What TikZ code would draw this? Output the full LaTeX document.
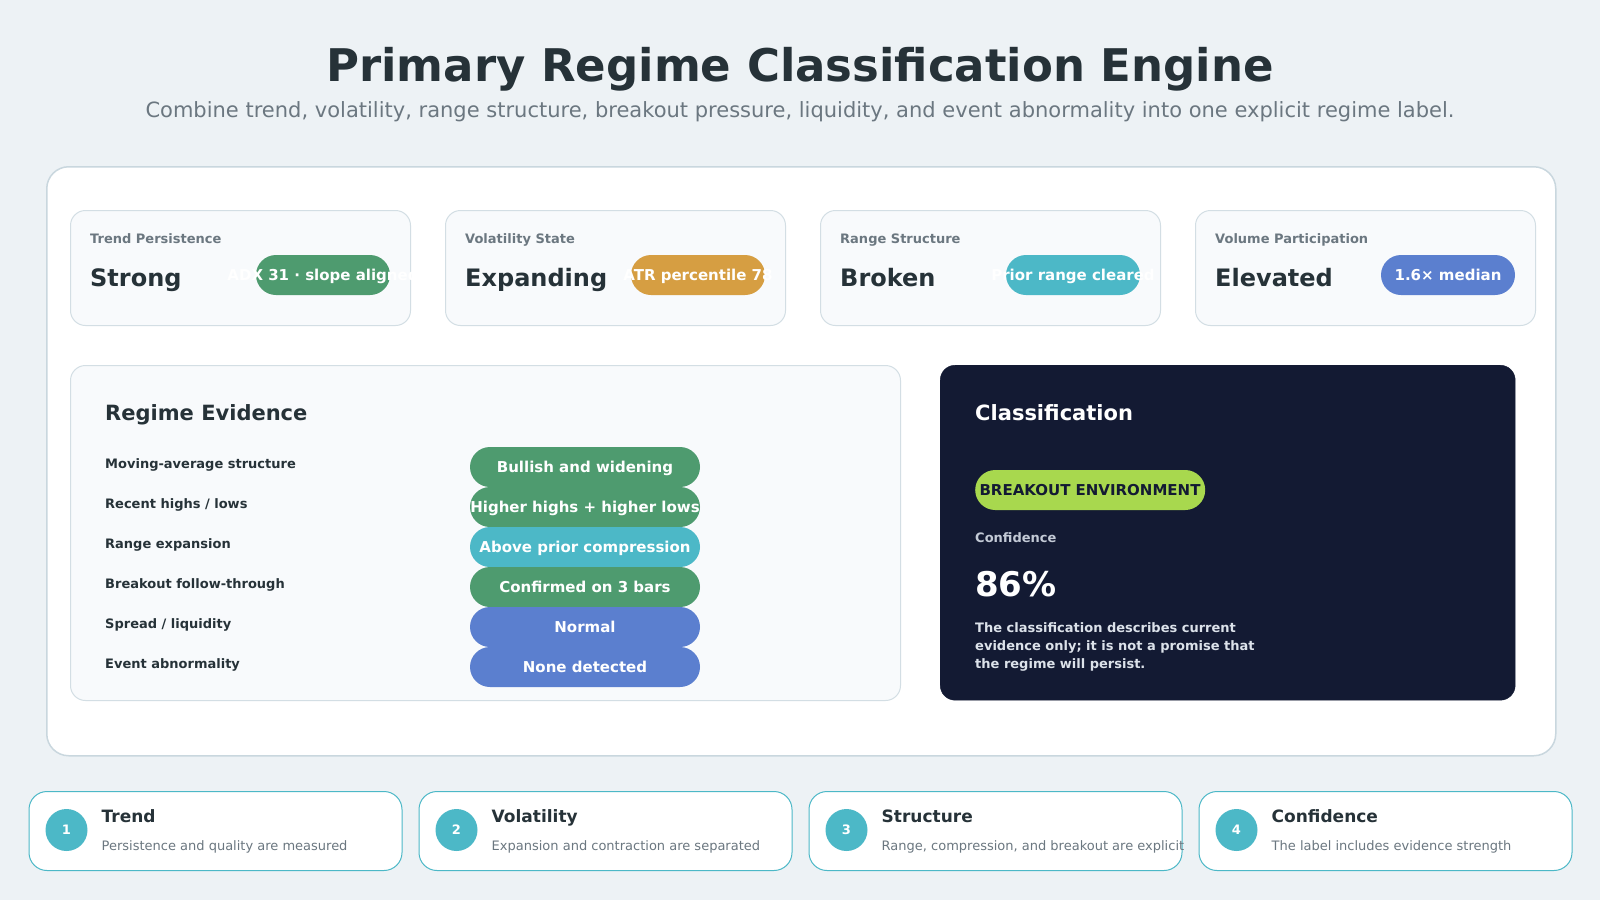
\documentclass[tikz,border=0pt]{standalone}
\usepackage{fontspec}
\setmainfont{DejaVu Sans}
\usepackage{xcolor}
\usepackage{tikz}
\usetikzlibrary{positioning}

\definecolor{pagebg}{HTML}{EDF2F5}
\definecolor{ink}{HTML}{263238}
\definecolor{muted}{HTML}{6B7780}
\definecolor{edge}{HTML}{D3DEE4}
\definecolor{frame}{HTML}{C9D7DE}
\definecolor{cardbg}{HTML}{F8FAFC}
\definecolor{okgreen}{HTML}{4E9B6F}
\definecolor{amber}{HTML}{D69E42}
\definecolor{teal}{HTML}{4CB8C7}
\definecolor{steel}{HTML}{5B7FCF}
\definecolor{navy}{HTML}{131A33}
\definecolor{lime}{HTML}{A8D84E}
\definecolor{haze}{HTML}{C3CAD6}
\definecolor{paper}{HTML}{DCE2EA}

\newcommand{\fs}[1]{\fontsize{#1}{#1}\selectfont}

\begin{document}
\begin{tikzpicture}[x=1pt, y=-1pt,
  txt/.style={inner sep=0pt, anchor=base west},
  card/.style={fill=cardbg, draw=edge, line width=1pt, rounded corners=15pt, inner sep=0pt, anchor=north west},
  pill/.style={minimum height=40pt, inner sep=0pt, rounded corners=20pt},
  pilltext/.style={inner sep=0pt, anchor=base, text=white, font=\fs{15}\bfseries}]

  \fill[pagebg] (0,0) rectangle (1600,900);
  \useasboundingbox (0,0) rectangle (1600,900);

  \node[inner sep=0pt, anchor=base, text=ink, font=\fs{45}\bfseries] (title) at (800,81) {Primary Regime Classification Engine};
  \node[inner sep=0pt, anchor=base, text=muted, font=\fs{21}] (subtitle) at (800,117) {Combine trend, volatility, range structure, breakout pressure, liquidity, and event abnormality into one explicit regime label.};

  \node[fill=white, draw=frame, line width=1.5pt, rounded corners=22pt, inner sep=0pt, anchor=north west,
        minimum width=1509pt, minimum height=589pt] (board) at (46,166) {};

  \foreach \name/\lab/\val/\note/\col [count=\i from 0] in
    {trend/Trend Persistence/Strong/ADX 31 · slope aligned/okgreen,
     vol/Volatility State/Expanding/ATR percentile 78/amber,
     range/Range Structure/Broken/Prior range cleared/teal,
     volume/Volume Participation/Elevated/1.6× median/steel}{
    \pgfmathsetmacro{\cx}{70+375*\i}
    \node[card, minimum width=340pt, minimum height=115pt] (card-\name) at (\cx,210) {};
    \node[txt, text=muted, font=\fs{13}\bfseries] (lab-\name) at (\cx+20,243.5) {\lab};
    \node[txt, text=ink, font=\fs{24}\bfseries] (val-\name) at (\cx+20,286) {\val};
    \node[pill, fill=\col, minimum width=134pt] (pill-\name) at (\cx+253,275) {};
    \node[pilltext] (note-\name) at (\cx+253,280.5) {\note};
  }

  \node[card, minimum width=830pt, minimum height=335pt] (evidence) at (70,365) {};
  \node[txt, text=ink, font=\fs{21}\bfseries] (evidence-title) at (105,420) {Regime Evidence};

  \foreach \lab/\res/\col [count=\k from 0] in
    {Moving-average structure/Bullish and widening/okgreen,
     {Recent highs / lows}/{Higher highs + higher lows}/okgreen,
     Range expansion/Above prior compression/teal,
     Breakout follow-through/Confirmed on 3 bars/okgreen,
     {Spread / liquidity}/Normal/steel,
     Event abnormality/None detected/steel}{
    \node[txt, text=ink, font=\fs{13}\bfseries] (row\k) at (105,468+40*\k) {\lab};
    \node[pill, fill=\col, minimum width=230pt] (res\k) at (585,467+40*\k) {};
    \node[pilltext] (restext\k) at (585,472.5+40*\k) {\res};
  }

  \node[fill=navy, draw=navy, rounded corners=15pt, inner sep=0pt, anchor=north west,
        minimum width=575pt, minimum height=335pt] (classpanel) at (940,365) {};
  \node[txt, text=white, font=\fs{21}\bfseries] (class-title) at (975,420) {Classification};
  \node[pill, fill=lime, minimum width=230pt, anchor=west] (regime) at (975,490) {};
  \node[inner sep=0pt, anchor=base, text=navy, font=\fs{15}\bfseries] (regime-text) at (1090,495.4) {BREAKOUT ENVIRONMENT};
  \node[txt, text=haze, font=\fs{13}\bfseries] (conf-lab) at (975,542.7) {Confidence};
  \node[txt, text=white, font=\fs{34}\bfseries] (conf-val) at (975,596) {86\%};
  \node[inner sep=0pt, anchor=north west, align=left, text=paper, font=\fontsize{13}{18}\selectfont\bfseries] (disclaimer) at (975,622.8)
    {The classification describes current\\evidence only; it is not a promise that\\the regime will persist.};

  \foreach \name/\head/\desc [count=\i from 1] in
    {trend/Trend/Persistence and quality are measured,
     vol/Volatility/Expansion and contraction are separated,
     struct/Structure/{Range, compression, and breakout are explicit},
     conf/Confidence/The label includes evidence strength}{
    \pgfmathsetmacro{\bx}{28.5+390*(\i-1)}
    \node[fill=white, draw=teal, line width=1pt, rounded corners=18pt, inner sep=0pt, anchor=north west,
          minimum width=373pt, minimum height=79pt] (step-\name) at (\bx,791) {};
    \node[circle, fill=teal, minimum size=42pt, inner sep=0pt, text=white, font=\fs{13}\bfseries] (num-\name) at (\bx+38,830) {\i};
    \node[txt, text=ink, font=\fs{17}\bfseries] (head-\name) at (\bx+73,822.3) {\head};
    \node[txt, text=muted, font=\fs{13}] (desc-\name) at (\bx+73,850) {\desc};
  }
\end{tikzpicture}
\end{document}
